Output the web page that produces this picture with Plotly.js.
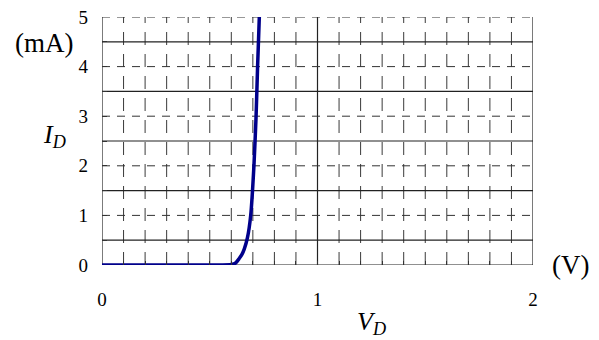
<!DOCTYPE html>
<html>
<head>
<meta charset="utf-8">
<script src="https://cdn.plot.ly/plotly-3.0.1.min.js"></script>
<style>
  html, body { margin: 0; padding: 0; background: #fff; }
  #chart { width: 599px; height: 340px; }
</style>
</head>
<body>
<div id="chart"></div>
<script>
// Diode forward characteristic: current I_D (mA) against voltage V_D (V)
const voltage = [0, 0.30, 0.56, 0.60, 0.62, 0.635, 0.65, 0.66, 0.675, 0.69, 0.705, 0.715, 0.722, 0.73];
const current = [0, 0,    0,    0.01, 0.04, 0.12,  0.22, 0.32, 0.55,  1.0,  2.0,   3.0,   4.0,   5.0];

const xTickVals = [0, 1, 2];
const xTickText = ['0', '1', '2'];
const yTickVals = [0, 1, 2, 3, 4, 5];
const yTickText = ['0', '1', '2', '3', '4', '5'];

const xMin = 0, xMax = 2, yMin = 0, yMax = 5;
const serif = '"Liberation Serif", "Times New Roman", serif';

// Grid: solid rules at half units, dashed rules at whole units,
// dashed verticals every 0.1 V with solid ones at whole volts.
const shapes = [];
for (let i = 1; i < 20; i++) {
  const v = i / 10;
  if (i === 10) continue;
  shapes.push({type: 'line', layer: 'below', xref: 'x', yref: 'y',
    x0: v, x1: v, y0: yMin, y1: yMax,
    line: {color: '#3a3a3a', width: 1, dash: '13px,9px'}});
}
[0, 1, 2].forEach(v => shapes.push({type: 'line', layer: 'below', xref: 'x', yref: 'y',
  x0: v, x1: v, y0: yMin, y1: yMax, line: {color: '#222', width: 1.2}}));
for (let k = 0; k <= 9; k++) {
  const h = k / 2;
  if (k % 2 === 1 || k === 0) {
    shapes.push({type: 'line', layer: 'below', xref: 'x', yref: 'y',
      x0: xMin, x1: xMax, y0: h, y1: h, line: {color: '#222', width: 1.2}});
  }
}
for (let k = 1; k <= 5; k++) {
  shapes.push({type: 'line', layer: 'below', xref: 'x', yref: 'y',
    x0: xMin, x1: xMax, y0: k, y1: k, line: {color: '#333', width: 1, dash: '8px,7px'}});
}

const trace = {
  x: voltage, y: current, type: 'scatter', mode: 'lines',
  line: {color: '#00008b', width: 3.5, shape: 'spline', smoothing: 0.6},
  hoverinfo: 'skip'
};

const layout = {
  width: 599, height: 340,
  margin: {l: 102, r: 66, t: 17, b: 75},
  paper_bgcolor: '#fff', plot_bgcolor: '#fff',
  showlegend: false,
  font: {family: serif, size: 19, color: '#000'},
  xaxis: {
    range: [xMin, xMax], tickvals: xTickVals, ticktext: xTickText,
    ticks: 'inside', ticklen: 4, tickcolor: '#333',
    minor: {dtick: 0.1, ticks: 'inside', ticklen: 4, tickcolor: '#333'},
    showgrid: false, zeroline: false, showline: false,
    ticklabelstandoff: 21, tickfont: {family: serif, size: 19, color: '#000'}
  },
  yaxis: {
    range: [yMin, yMax], tickvals: yTickVals, ticktext: yTickText,
    ticks: 'inside', ticklen: 5, tickcolor: '#333',
    minor: {dtick: 0.5, ticks: 'inside', ticklen: 5, tickcolor: '#333'},
    showgrid: false, zeroline: false, showline: false,
    ticklabelstandoff: 13, tickfont: {family: serif, size: 19, color: '#000'}
  },
  shapes: shapes,
  annotations: [
    {text: '(mA)', xref: 'paper', yref: 'paper', x: -0.062, y: 0.895,
     xanchor: 'right', yanchor: 'middle', showarrow: false,
     font: {family: serif, size: 27, color: '#000'}},
    {text: '<i>I<sub>D</sub></i>', xref: 'paper', yref: 'paper', x: -0.11, y: 0.52,
     xanchor: 'center', yanchor: 'middle', showarrow: false,
     font: {family: serif, size: 26, color: '#000'}},
    {text: '<i>V<sub>D</sub></i>', xref: 'paper', yref: 'paper', x: 0.626, y: -0.232,
     xanchor: 'center', yanchor: 'middle', showarrow: false,
     font: {family: serif, size: 26, color: '#000'}},
    {text: '(V)', xref: 'paper', yref: 'paper', x: 1.086, y: 0.0,
     xanchor: 'center', yanchor: 'middle', showarrow: false,
     font: {family: serif, size: 27, color: '#000'}}
  ]
};

Plotly.newPlot('chart', [trace], layout, {displayModeBar: false, staticPlot: true});
</script>
</body>
</html>
